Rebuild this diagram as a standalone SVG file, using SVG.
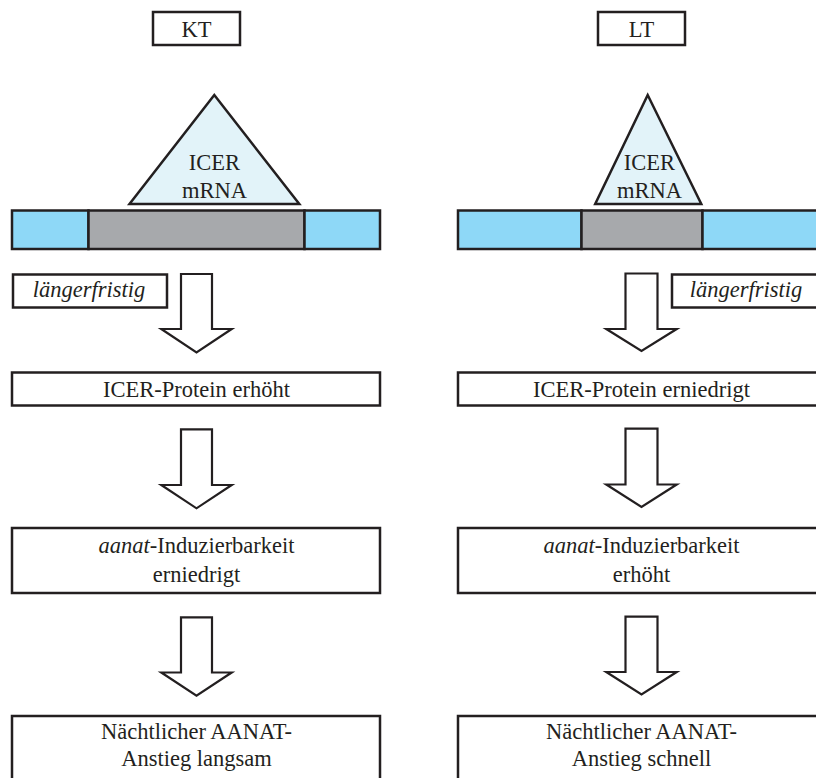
<svg xmlns="http://www.w3.org/2000/svg" width="816" height="778" viewBox="0 0 816 778">
<style>
  .box { fill: #ffffff; stroke: #231f20; stroke-width: 2.5; }
  .blue { fill: #8ed8f7; stroke: #231f20; stroke-width: 2.5; }
  .gray { fill: #a7a9ac; stroke: #231f20; stroke-width: 2.5; }
  .tri { fill: #e2f3f9; stroke: #231f20; stroke-width: 2.5; stroke-linejoin: miter; }
  .arrow { fill: #ffffff; stroke: #231f20; stroke-width: 2.2; stroke-linejoin: miter; }
  .t { font-family: "Liberation Serif", "Times New Roman", serif; font-size: 22.5px; fill: #231f20; text-anchor: middle; }
  .it { font-style: italic; }
</style>
<rect x="0" y="0" width="816" height="778" fill="#ffffff"/>

<g id="kt">
  <rect class="box" x="153" y="12" width="87" height="33"/>
  <text class="t" x="196.5" y="36.5">KT</text>
</g>
<g id="lt">
  <rect class="box" x="598" y="12" width="87" height="33"/>
  <text class="t" x="641.5" y="36.5">LT</text>
</g>

<g id="gene-left">
  <rect class="blue" x="12" y="210.5" width="76.5" height="38.5"/>
  <rect class="gray" x="88.5" y="210.5" width="216" height="38.5"/>
  <rect class="blue" x="304.5" y="210.5" width="75.5" height="38.5"/>
</g>
<g id="mrna-left">
  <polygon class="tri" points="214.3,95 129.5,204 299.3,204"/>
  <text class="t" x="214.5" y="170">ICER</text>
  <text class="t" x="214.5" y="198">mRNA</text>
</g>

<g id="gene-right">
  <rect class="blue" x="458" y="210.5" width="123.5" height="38.5"/>
  <rect class="gray" x="581.5" y="210.5" width="121" height="38.5"/>
  <rect class="blue" x="702.5" y="210.5" width="125" height="38.5"/>
</g>
<g id="mrna-right">
  <polygon class="tri" points="647.7,95 595.2,204 701.3,204"/>
  <text class="t" x="649.5" y="170">ICER</text>
  <text class="t" x="649.5" y="198">mRNA</text>
</g>

<g id="lf-left">
  <rect class="box" x="13" y="274.5" width="154" height="33"/>
  <text class="t it" x="89" y="296.5">längerfristig</text>
</g>
<g id="lf-right">
  <rect class="box" x="672" y="274.5" width="156" height="33"/>
  <text class="t it" x="746" y="296.5">längerfristig</text>
</g>

<g id="protein-left">
  <rect class="box" x="12" y="372.5" width="368" height="33"/>
  <text class="t" x="196.5" y="396.5">ICER-Protein erhöht</text>
</g>
<g id="protein-right">
  <rect class="box" x="458" y="372.5" width="368" height="33"/>
  <text class="t" x="641.5" y="396.5">ICER-Protein erniedrigt</text>
</g>

<g id="aanat-left">
  <rect class="box" x="12" y="528" width="368" height="65"/>
  <text class="t" x="196.5" y="553"><tspan class="it">aanat</tspan>-Induzierbarkeit</text>
  <text class="t" x="196.5" y="582">erniedrigt</text>
</g>
<g id="aanat-right">
  <rect class="box" x="458" y="528" width="368" height="65"/>
  <text class="t" x="641.5" y="553"><tspan class="it">aanat</tspan>-Induzierbarkeit</text>
  <text class="t" x="641.5" y="582">erhöht</text>
</g>

<g id="anstieg-left">
  <rect class="box" x="12" y="716" width="368" height="80"/>
  <text class="t" x="196.5" y="739">Nächtlicher AANAT-</text>
  <text class="t" x="196.5" y="766">Anstieg langsam</text>
</g>
<g id="anstieg-right">
  <rect class="box" x="458" y="716" width="368" height="80"/>
  <text class="t" x="641.5" y="739">Nächtlicher AANAT-</text>
  <text class="t" x="641.5" y="766">Anstieg schnell</text>
</g>

<g id="connectors">
  <polygon class="arrow" points="181,274 212,274 212,329 231.7,329 196.5,352.5 161.3,329 181,329"/>
  <polygon class="arrow" points="181,429.3 212,429.3 212,485 231.7,485 196.5,508.3 161.3,485 181,485"/>
  <polygon class="arrow" points="181,617.3 212,617.3 212,672.5 231.7,672.5 196.5,695.7 161.3,672.5 181,672.5"/>
  <polygon class="arrow" points="625.5,273.5 657.5,273.5 657.5,329 676.7,329 641.5,351 606.3,329 625.5,329"/>
  <polygon class="arrow" points="625.5,428.7 657.5,428.7 657.5,484.5 676.7,484.5 641.5,507 606.3,484.5 625.5,484.5"/>
  <polygon class="arrow" points="625.5,616.7 657.5,616.7 657.5,672 676.7,672 641.5,694.5 606.3,672 625.5,672"/>
</g>
</svg>
